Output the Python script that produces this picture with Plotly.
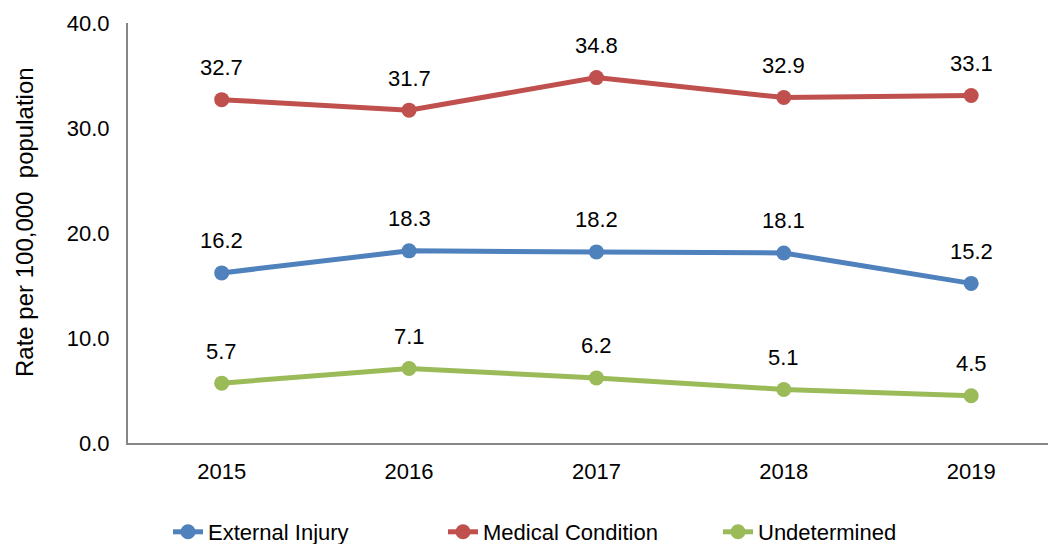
import plotly.graph_objects as go

years = ["2015", "2016", "2017", "2018", "2019"]
external_injury = [16.2, 18.3, 18.2, 18.1, 15.2]
medical_condition = [32.7, 31.7, 34.8, 32.9, 33.1]
undetermined = [5.7, 7.1, 6.2, 5.1, 4.5]
y_ticks = [0, 10, 20, 30, 40]
y_tick_labels = ["0.0", "10.0", "20.0", "30.0", "40.0"]

series = [
    ("External Injury", external_injury, "#4F81BD"),
    ("Medical Condition", medical_condition, "#C0504D"),
    ("Undetermined", undetermined, "#9BBB59"),
]

FONT = "Liberation Sans, Arial, sans-serif"
xs = list(range(len(years)))

fig = go.Figure()
annotations = []
for name, vals, color in series:
    fig.add_trace(go.Scatter(
        x=xs, y=vals, name=name, mode="lines+markers",
        line=dict(color=color, width=5),
        marker=dict(color=color, size=15),
    ))
    for xi, v in zip(xs, vals):
        annotations.append(dict(
            x=xi, y=v, text=f"{v:.1f}", showarrow=False, yshift=32,
            font=dict(family=FONT, size=22, color="#000000"),
        ))

annotations.append(dict(
    text="Rate per 100,000  population", textangle=-90, showarrow=False,
    xref="paper", yref="paper", x=-104 / 920, y=(443 - 222) / 420,
    xanchor="center", yanchor="middle",
    font=dict(family=FONT, size=24, color="#000000"),
))

fig.update_layout(
    width=1048, height=544,
    margin=dict(l=128, r=0, t=23, b=101, autoexpand=False),
    paper_bgcolor="white", plot_bgcolor="white",
    font=dict(family=FONT, size=22, color="#000000"),
    showlegend=True,
    legend=dict(orientation="h", x=40 / 920, xanchor="left",
                yref="container", y=12 / 544, yanchor="middle",
                entrywidth=230, entrywidthmode="pixels",
                font=dict(family=FONT, size=22)),
    annotations=annotations,
    xaxis=dict(
        range=[-0.5, 4.41], tickmode="array", tickvals=xs, ticktext=years,
        showline=True, linecolor="#868686", linewidth=2, showgrid=False,
        zeroline=False, ticks="", ticklabelstandoff=8, automargin=False,
        tickfont=dict(family=FONT, size=22),
    ),
    yaxis=dict(
        range=[0, 40], tickmode="array", tickvals=y_ticks, ticktext=y_tick_labels,
        showline=True, linecolor="#868686", linewidth=2, showgrid=False,
        zeroline=False, ticks="", ticklabelstandoff=12, automargin=False,
        tickfont=dict(family=FONT, size=22),
    ),
)

post = "document.body.style.margin='0';document.body.style.overflow='hidden';"
fig.write_html("out.html", config={"displayModeBar": False}, post_script=post)
